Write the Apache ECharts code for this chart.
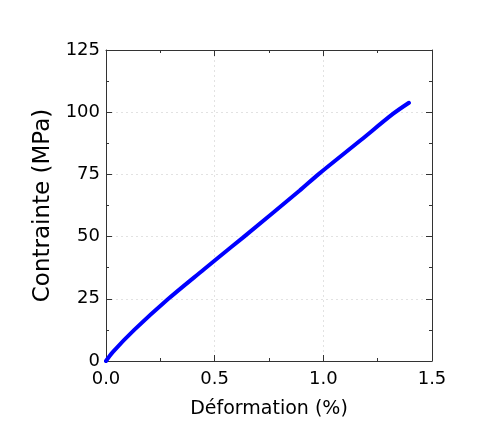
<!DOCTYPE html>
<html>
<head>
<meta charset="utf-8">
<script src="https://cdn.jsdelivr.net/npm/echarts@6/dist/echarts.min.js"></script>
<style>html,body{margin:0;padding:0;background:#fff}#c{width:480px;height:435px}</style>
</head>
<body>
<div id="c"></div>
<script>
const strain = [0, 0.03, 0.13, 0.287, 0.45, 0.52, 0.63, 0.89, 0.977, 1.17, 1.32, 1.394];
const stress = [0, 3.5, 12.5, 25, 36.8, 41.8, 49.6, 68.4, 75, 88.6, 99.3, 103.8];
const xTitle = 'Déformation (%)';
const yTitle = 'Contrainte (MPa)';

const chart = echarts.init(document.getElementById('c'));
const fontFam = 'DejaVu Sans';
const axisLineStyle = {color: '#333', width: 1};
const common = {
  axisLine: {show: true, onZero: false, lineStyle: axisLineStyle},
  axisTick: {show: true, inside: true, length: 6, lineStyle: axisLineStyle},
  minorTick: {show: true, splitNumber: 2, length: 3, lineStyle: axisLineStyle}
};
chart.setOption({
  animation: false,
  grid: {left: 106, top: 50, width: 326, height: 311, containLabel: false},
  xAxis: [
    Object.assign({
      type: 'value', position: 'bottom', min: 0, max: 1.5, interval: 0.5,
      name: xTitle, nameLocation: 'middle', nameGap: 39,
      nameTextStyle: {fontFamily: fontFam, fontSize: 19, color: '#000'},
      axisLabel: {fontFamily: fontFam, fontSize: 18, color: '#000', margin: 9,
        formatter: v => v.toFixed(1)},
      splitLine: {show: true, lineStyle: {type: [2, 3], color: '#e2e2e2', width: 1}}
    }, common),
    Object.assign({
      type: 'value', position: 'top', min: 0, max: 1.5, interval: 0.5,
      axisLabel: {show: false}, splitLine: {show: false}
    }, common)
  ],
  yAxis: [
    Object.assign({
      type: 'value', position: 'left', min: 0, max: 125, interval: 25,
      name: yTitle, nameLocation: 'middle', nameGap: 43,
      nameTextStyle: {fontFamily: fontFam, fontSize: 23, color: '#000'},
      axisLabel: {fontFamily: fontFam, fontSize: 18, color: '#000', margin: 6},
      splitLine: {show: true, lineStyle: {type: [2, 3], color: '#e2e2e2', width: 1}}
    }, common),
    Object.assign({
      type: 'value', position: 'right', min: 0, max: 125, interval: 25,
      axisLabel: {show: false}, splitLine: {show: false}
    }, common)
  ],
  series: [{
    type: 'line',
    data: strain.map((x, i) => [x, stress[i]]),
    showSymbol: false,
    smooth: 0.3,
    lineStyle: {color: '#0000ff', width: 4, cap: 'round'}
  }]
});
</script>
</body>
</html>
